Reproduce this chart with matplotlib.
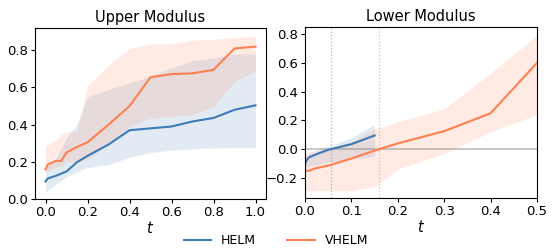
import matplotlib
matplotlib.use("Agg")
import matplotlib.pyplot as plt
import numpy as np

BLUE = "#3d7ab8"
ORANGE = "#ff7f50"

# Upper modulus
up_helm_t = [0.0, 0.01, 0.05, 0.1, 0.15, 0.2, 0.3, 0.4, 0.5, 0.6, 0.7, 0.8, 0.9, 1.0]
up_helm_m = [0.094, 0.11, 0.125, 0.148, 0.198, 0.232, 0.293, 0.37, 0.38, 0.39, 0.417, 0.436, 0.48, 0.504]
up_helm_lo = [0.03, 0.05, 0.08, 0.12, 0.145, 0.17, 0.185, 0.225, 0.25, 0.262, 0.27, 0.275, 0.276, 0.276]
up_helm_hi = [0.16, 0.18, 0.22, 0.33, 0.40, 0.55, 0.59, 0.625, 0.66, 0.705, 0.745, 0.758, 0.78, 0.78]

up_vhelm_t = [0.0, 0.01, 0.05, 0.075, 0.1, 0.15, 0.2, 0.3, 0.4, 0.5, 0.6, 0.7, 0.8, 0.9, 1.0]
up_vhelm_m = [0.16, 0.185, 0.205, 0.205, 0.25, 0.28, 0.305, 0.4, 0.5, 0.655, 0.672, 0.676, 0.695, 0.81, 0.82]
up_vhelm_lo = [0.14, 0.15, 0.17, 0.18, 0.2, 0.2, 0.21, 0.3, 0.39, 0.435, 0.445, 0.45, 0.5, 0.63, 0.69]
up_vhelm_hi = [0.29, 0.29, 0.32, 0.35, 0.36, 0.365, 0.61, 0.72, 0.81, 0.835, 0.835, 0.855, 0.86, 0.87, 0.875]

# Lower modulus
lo_helm_t = [0.0, 0.005, 0.01, 0.025, 0.05, 0.075, 0.1, 0.125, 0.15]
lo_helm_m = [-0.1, -0.07, -0.055, -0.035, -0.005, 0.015, 0.035, 0.065, 0.095]
lo_helm_lo = [-0.125, -0.125, -0.12, -0.11, -0.09, -0.08, -0.07, -0.06, -0.05]
lo_helm_hi = [-0.05, -0.04, -0.03, -0.01, 0.02, 0.05, 0.08, 0.125, 0.17]

lo_vhelm_t = [0.0, 0.01, 0.02, 0.05, 0.1, 0.15, 0.2, 0.3, 0.4, 0.5]
lo_vhelm_m = [-0.15, -0.15, -0.135, -0.115, -0.065, -0.01, 0.04, 0.125, 0.25, 0.6]
lo_vhelm_lo = [-0.29, -0.29, -0.29, -0.29, -0.29, -0.26, -0.14, -0.03, 0.12, 0.24]
lo_vhelm_hi = [-0.03, -0.02, -0.01, 0.01, 0.05, 0.14, 0.19, 0.28, 0.53, 0.79]

vline_helm = 0.057
vline_vhelm = 0.16

fig = plt.figure(figsize=(5.52, 2.52), dpi=100)
ax1 = fig.add_axes([35/552, 53/252, 231/552, 171/252])
ax2 = fig.add_axes([305/552, 54/252, 232/552, 171/252])

band_alpha = 0.15

ax1.fill_between(up_helm_t, up_helm_lo, up_helm_hi, color=BLUE, alpha=band_alpha, lw=0)
ax1.fill_between(up_vhelm_t, up_vhelm_lo, up_vhelm_hi, color=ORANGE, alpha=band_alpha, lw=0)
l1, = ax1.plot(up_helm_t, up_helm_m, color=BLUE, lw=1.5, label="HELM")
l2, = ax1.plot(up_vhelm_t, up_vhelm_m, color=ORANGE, lw=1.5, label="VHELM")
ax1.set_ylim(0, 0.92)
ax1.set_xlim(-0.05, 1.05)
ax1.set_xticks([0.0, 0.2, 0.4, 0.6, 0.8, 1.0])
ax1.set_yticks([0.0, 0.2, 0.4, 0.6, 0.8])
ax1.set_title("Upper Modulus", fontsize=10.5, pad=4)
ax1.set_xlabel("$t$", fontsize=10.5, labelpad=1)

ax2.fill_between(lo_helm_t, lo_helm_lo, lo_helm_hi, color=BLUE, alpha=band_alpha, lw=0)
ax2.fill_between(lo_vhelm_t, lo_vhelm_lo, lo_vhelm_hi, color=ORANGE, alpha=band_alpha, lw=0)
ax2.axhline(0, color="gray", alpha=0.5, lw=1.2)
ax2.axvline(vline_helm, color=BLUE, ls=":", lw=0.9, alpha=0.5)
ax2.axvline(vline_vhelm, color=ORANGE, ls=":", lw=0.9, alpha=0.6)
ax2.plot(lo_helm_t, lo_helm_m, color=BLUE, lw=1.5)
ax2.plot(lo_vhelm_t, lo_vhelm_m, color=ORANGE, lw=1.5)
ax2.set_xlim(0, 0.5)
ax2.set_ylim(-0.34, 0.85)
ax2.set_xticks([0.0, 0.1, 0.2, 0.3, 0.4, 0.5])
ax2.set_yticks([-0.2, 0.0, 0.2, 0.4, 0.6, 0.8])
ax2.set_title("Lower Modulus", fontsize=10.5, pad=4)
ax2.set_xlabel("$t$", fontsize=10.5, labelpad=1)

for ax in (ax1, ax2):
    ax.tick_params(labelsize=9.5, length=3, pad=2)

fig.legend(handles=[l1, l2], loc="center", bbox_to_anchor=(0.5, 0.045), ncol=2,
           frameon=False, fontsize=9, handlelength=2.2, columnspacing=2.5)

fig.savefig("out.png", dpi=100)
